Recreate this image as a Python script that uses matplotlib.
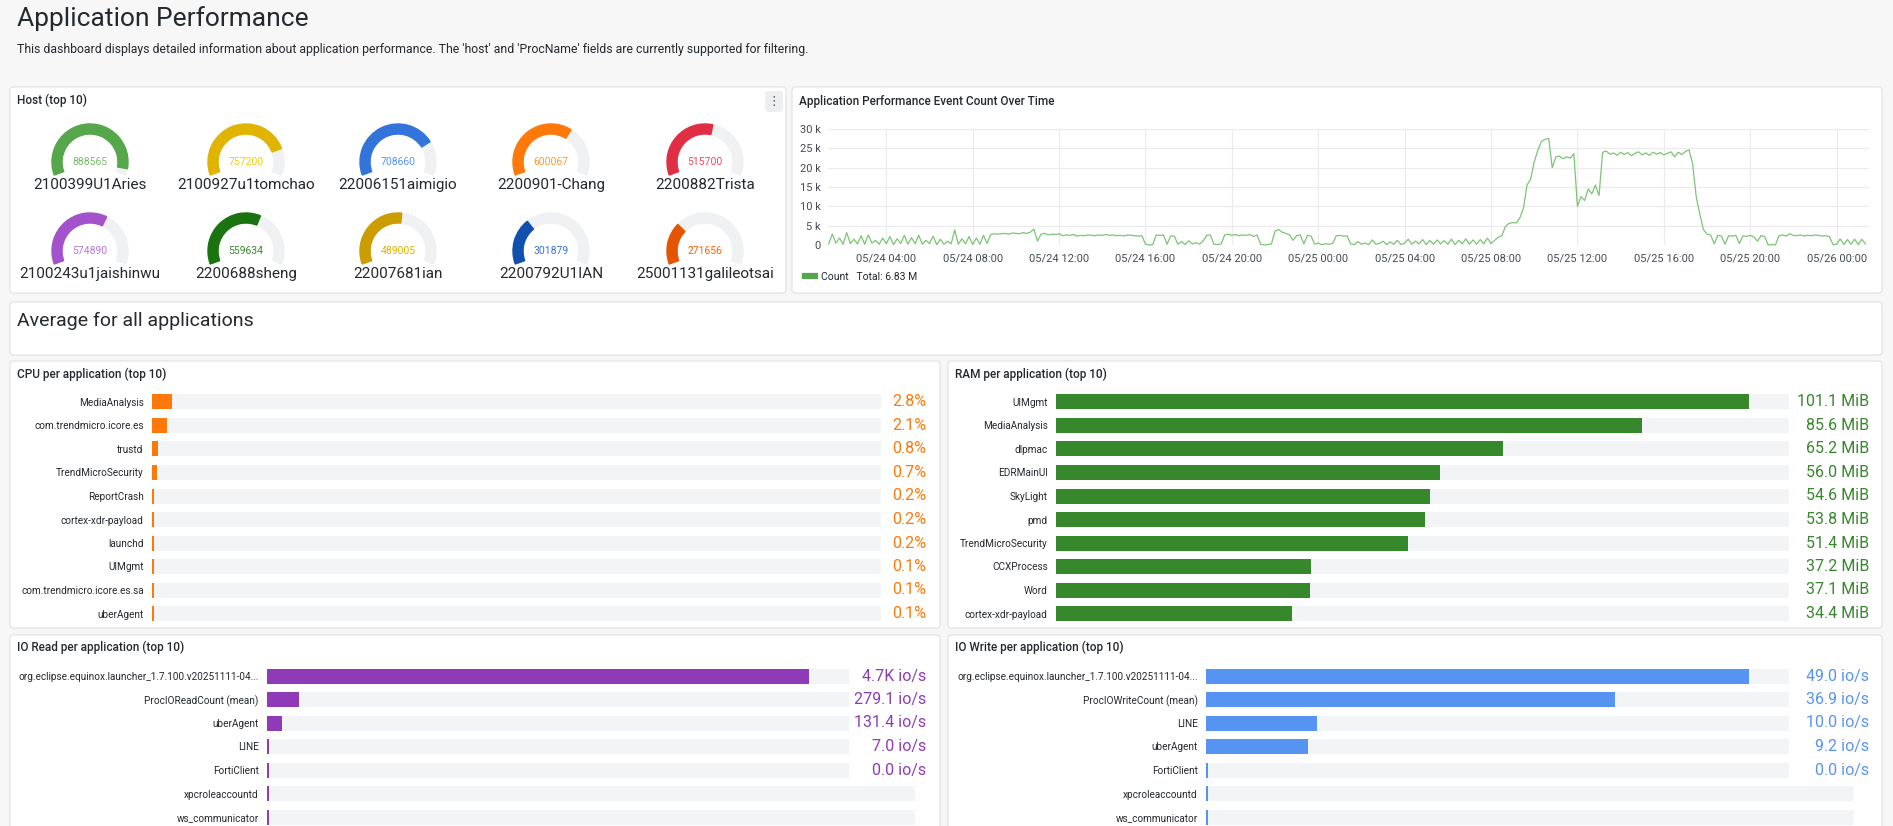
import numpy as np
import pandas as pd
import matplotlib
matplotlib.use("Agg")
import matplotlib.pyplot as plt
import matplotlib.dates as mdates
import matplotlib.transforms as mtransforms
from matplotlib.patches import FancyBboxPatch, Wedge

plt.rcParams['font.family'] = ['Roboto', 'DejaVu Sans']

# ---- data ----
host_names = ['2100399U1Aries', '2100927u1tomchao', '22006151aimigio', '2200901-Chang', '2200882Trista',
              '2100243u1jaishinwu', '2200688sheng', '22007681ian', '2200792U1IAN', '25001131galileotsai']
host_counts = [888565, 757200, 708660, 600067, 515700, 574890, 559634, 489005, 301879, 271656]
host_colors = ['#56A64B', '#E0B400', '#3274D9', '#FF780A', '#E02F44',
               '#A352CC', '#19730E', '#CC9D00', '#1250B0', '#E55400']
host_text_colors = ['#73BF69', '#F2CC0C', '#5794F2', '#FF9830', '#F2495C',
                    '#B877D9', '#37872D', '#E0B400', '#3274D9', '#FA6400']
gauge_max = 930000

# event count, thousands, every 10 minutes from 05/24 01:20
count_k = [
    0.3, 2.8, 0.5, 1.8, 0.2, 3.2, 0.4, 1.5, 0.3, 2.4, 0.2, 2.6,
    0.5, 1.2, 0.2, 1.8, 0.3, 2.2, 0.1, 1.6, 0.4, 2.5, 0.2, 1.9,
    0.3, 2.5, 0.2, 1.2, 0.4, 2.3, 0.1, 1.5, 0.2, 1.0, 0.3, 3.9,
    0.2, 1.6, 0.3, 2.2, 0.1, 1.8, 0.2, 2.5, 0.4, 2.7, 2.9, 2.8,
    2.9, 3.0, 2.8, 3.1, 3.0, 2.9, 3.2, 3.0, 3.3, 4.1, 1.0, 2.8,
    3.0, 2.6, 2.8, 2.7, 2.9, 2.4, 2.6, 2.5, 2.7, 2.3, 2.5, 2.4,
    2.6, 2.5, 2.4, 2.6, 2.5, 2.7, 2.5, 2.6, 2.4, 2.5, 2.3, 2.6,
    2.5, 2.4, 2.3, 2.4, 0.2, 0.0, 0.1, 2.6, 2.5, 2.6, 0.2, 2.3,
    2.3, 0.2, 0.9, 0.1, 1.1, 0.3, 0.6, 0.2, 1.0, 2.5, 2.6, 0.2,
    0.1, 0.3, 2.6, 2.8, 2.5, 2.7, 2.4, 2.6, 2.5, 2.7, 2.2, 2.6,
    0.2, 0.0, 0.1, 0.3, 3.6, 4.0, 3.3, 3.0, 2.6, 1.2, 2.4, 2.6,
    0.3, 2.5, 2.3, 0.2, 0.5, 0.1, 0.3, 0.2, 0.4, 2.4, 2.5, 2.3,
    2.4, 0.3, 0.1, 0.9, 0.2, 0.5, 0.1, 1.3, 0.2, 0.4, 1.0, 0.1,
    0.8, 0.2, 1.2, 0.1, 0.5, 1.5, 0.2, 1.0, 0.3, 1.4, 0.1, 1.2,
    0.2, 1.3, 0.3, 1.1, 0.2, 1.5, 0.1, 1.2, 0.3, 1.6, 0.2, 1.3,
    0.2, 1.4, 0.3, 1.8, 0.4, 1.2, 2.0, 2.4, 4.8, 5.6, 5.8, 5.7,
    7.0, 9.5, 15.5, 17.0, 21.5, 24.5, 26.8, 27.3, 27.6, 20.0, 22.8, 23.0,
    22.3, 22.8, 22.5, 23.6, 10.0, 12.5, 11.5, 14.5, 13.2, 15.5, 12.8, 24.0,
    24.3, 23.5, 23.8, 23.2, 24.0, 23.4, 23.9, 23.1, 23.7, 24.1, 23.3, 23.8,
    23.2, 24.0, 23.5, 23.9, 23.3, 23.7, 24.1, 22.8, 24.0, 23.4, 24.2, 24.6,
    21.0, 12.5, 8.0, 4.0, 2.8, 2.6, 0.3, 2.5, 2.3, 0.2, 2.4, 2.3,
    2.5, 0.4, 2.4, 2.2, 2.5, 2.1, 1.0, 2.4, 2.2, 0.0, 0.1, 0.0,
    2.4, 2.6, 2.3, 2.9, 2.5, 2.4, 2.6, 2.3, 2.5, 2.4, 2.6, 2.5,
    2.3, 2.4, 2.2, 0.1, 0.2, 1.6, 0.1, 1.4, 0.2, 1.5, 0.1, 1.5,
    0.3,
]

cpu_apps = ['MediaAnalysis', 'com.trendmicro.icore.es', 'trustd', 'TrendMicroSecurity', 'ReportCrash',
            'cortex-xdr-payload', 'launchd', 'UIMgmt', 'com.trendmicro.icore.es.sa', 'uberAgent']
cpu_pct = [2.8, 2.1, 0.8, 0.7, 0.2, 0.2, 0.2, 0.1, 0.1, 0.1]

ram_apps = ['UIMgmt', 'MediaAnalysis', 'dlpmac', 'EDRMainUI', 'SkyLight', 'pmd', 'TrendMicroSecurity',
            'CCXProcess', 'Word', 'cortex-xdr-payload']
ram_mib = [101.1, 85.6, 65.2, 56.0, 54.6, 53.8, 51.4, 37.2, 37.1, 34.4]

ioread_apps = ['org.eclipse.equinox.launcher_1.7.100.v20251111-04...', 'ProcIOReadCount (mean)', 'uberAgent',
               'LINE', 'FortiClient', 'xpcroleaccountd', 'ws_communicator']
ioread_vals = [4700, 279.1, 131.4, 7.0, 0.0, np.nan, np.nan]

iowrite_apps = ['org.eclipse.equinox.launcher_1.7.100.v20251111-04...', 'ProcIOWriteCount (mean)', 'LINE',
                'uberAgent', 'FortiClient', 'xpcroleaccountd', 'ws_communicator']
iowrite_vals = [49.0, 36.9, 10.0, 9.2, 0.0, np.nan, np.nan]

# ---- figure ----
W, H = 1893, 826
fig = plt.figure(figsize=(W / 100, H / 100), dpi=100, facecolor='#f7f7f8')

TXT = '#24292e'


def px_axes(x0, y0, x1, y1):
    return fig.add_axes([x0 / W, 1 - y1 / H, (x1 - x0) / W, (y1 - y0) / H])


bg = fig.add_axes([0, 0, 1, 1])
bg.set_xlim(0, W)
bg.set_ylim(H, 0)
bg.axis('off')

panels = [(10, 87, 786, 293), (792, 87, 1882, 293), (10, 302, 1882, 355),
          (10, 361, 940, 628), (948, 361, 1882, 628), (10, 635, 940, 840), (948, 635, 1882, 840)]
for x0, y0, x1, y1 in panels:
    bg.add_patch(FancyBboxPatch((x0, y0), x1 - x0, y1 - y0, boxstyle='round,pad=0,rounding_size=3',
                                fc='white', ec='#dfe1e4', lw=0.8))

bg.text(17, 19, 'Application Performance', fontsize=19, color=TXT, va='center')
bg.text(17, 50, "This dashboard displays detailed information about application performance. "
        "The 'host' and 'ProcName' fields are currently supported for filtering.",
        fontsize=8.8, color=TXT, va='center')

titles = [(17, 100, 'Host (top 10)'), (799, 101, 'Application Performance Event Count Over Time'),
          (17, 374, 'CPU per application (top 10)'), (955, 374, 'RAM per application (top 10)'),
          (17, 647, 'IO Read per application (top 10)'), (955, 647, 'IO Write per application (top 10)')]
for x, y, t in titles:
    bg.text(x, y, t, fontsize=8.5, fontweight=500, color=TXT, va='center')
bg.text(17, 321, 'Average for all applications', fontsize=14, color=TXT, va='center')

# menu button
bg.add_patch(FancyBboxPatch((765, 91), 18, 21, boxstyle='round,pad=0,rounding_size=3', fc='#eeeff0', ec='none'))
bg.text(774, 101.5, '\u22ee', fontsize=9, color='#555', ha='center', va='center',
        family=['DejaVu Sans'])

# ---- gauges ----
gx = [90, 246, 398, 551, 705]
gy = [162, 251]
R, TH = 38, 10
for i, (name, v) in enumerate(zip(host_names, host_counts)):
    cx, cy = gx[i % 5], gy[i // 5]
    ax = px_axes(cx - 45, cy - 45, cx + 45, cy + 45)
    ax.set_xlim(-45, 45)
    ax.set_ylim(-45, 45)
    ax.axis('off')
    ax.add_patch(Wedge((0, 0), R, -20, 200, width=TH, color='#f0f1f2'))
    frac = v / gauge_max
    ax.add_patch(Wedge((0, 0), R, 200 - 220 * frac, 200, width=TH, color=host_colors[i]))
    ax.text(0, 0, str(v), ha='center', va='center', fontsize=7.5, color=host_text_colors[i])
    ax.text(0, -23, name, ha='center', va='center', fontsize=11, color=TXT)

# ---- time series ----
times = pd.date_range('2025-05-24 01:20', periods=len(count_k), freq='10min')
counts = np.array(count_k) * 1000
ax = px_axes(828, 129, 1869, 245)
line, = ax.plot(times, counts, color='#7cc573', lw=0.9, clip_on=False)
ax.set_xlim(pd.Timestamp('2025-05-24 01:18'), pd.Timestamp('2025-05-26 01:30'))
ax.set_ylim(0, 30000)
ax.set_yticks(np.arange(0, 30001, 5000))
ax.yaxis.set_major_formatter(plt.FuncFormatter(lambda v, p: '0' if v == 0 else f'{int(v / 1000)} k'))
ax.xaxis.set_major_locator(mdates.HourLocator(byhour=range(0, 24, 4)))
ax.xaxis.set_major_formatter(mdates.DateFormatter('%m/%d %H:%M'))
ax.grid(color='#ebebec', lw=0.8)
ax.set_axisbelow(True)
for s in ax.spines.values():
    s.set_visible(False)
ax.tick_params(length=0, labelsize=8, labelcolor='#464c54')
ax.tick_params(axis='x', pad=6)
ax.tick_params(axis='y', pad=5)
ax.patch.set_alpha(0)
leg = ax.legend([line], ['Count   Total: 6.83 M'], loc='center left', bbox_to_anchor=(800 / W, 1 - 277 / H),
                bbox_transform=fig.transFigure, frameon=False, handlelength=0.9, fontsize=7.5,
                borderpad=0, handletextpad=0.6)
leg.get_lines()[0].set_linewidth(4.5)
leg.get_lines()[0].set_color('#56A64B')
for t in leg.get_texts():
    t.set_color(TXT)

# ---- bar gauges ----
ROW = 23.5
BAR_H = 15 / ROW


def bar_panel(x0, x1, ytop, names, values, vmax, color, fmt, value_x, empty_ext=1.0):
    n = len(names)
    ax = px_axes(x0, ytop, x1, ytop + n * ROW)
    ypos = np.arange(n)
    vals = np.array(values, dtype=float)
    ax.set_xlim(0, vmax)
    ax.set_ylim(n - 0.5, -0.5)
    tracks = np.where(np.isnan(vals), vmax * empty_ext, vmax)
    ax.barh(ypos, tracks, height=BAR_H, color='#f3f4f5', clip_on=False)
    min_w = vmax * 1.5 / (x1 - x0)
    ax.barh(ypos, np.maximum(np.nan_to_num(vals), min_w), height=BAR_H, color=color)
    tr = mtransforms.blended_transform_factory(fig.transFigure, ax.transData)
    for i, v in enumerate(vals):
        if not np.isnan(v):
            ax.text(value_x / W, i, fmt(v), transform=tr, ha='right', va='center', fontsize=11.5, color=color)
    ax.set_yticks(ypos, names)
    ax.set_xticks([])
    ax.tick_params(length=0, pad=6, labelsize=7.2, labelcolor=TXT)
    for s in ax.spines.values():
        s.set_visible(False)
    ax.patch.set_alpha(0)
    return ax


def io_fmt(v):
    if v >= 1000:
        return f'{v / 1000:.1f}K io/s'
    return f'{v:.1f} io/s'


bar_panel(152, 881, 402 - ROW / 2, cpu_apps, cpu_pct, 100, '#FF780A', lambda v: f'{v:.1f}%', 926)
bar_panel(1056, 1789, 402 - ROW / 2, ram_apps, ram_mib, 107, '#37872D', lambda v: f'{v:.1f} MiB', 1869)
bar_panel(267, 849, 676 - ROW / 2, ioread_apps, ioread_vals, 5050, '#8F3BB8', io_fmt, 926, 1.113)
bar_panel(1206, 1789, 676 - ROW / 2, iowrite_apps, iowrite_vals, 52.6, '#5794F2', io_fmt, 1869, 1.111)

fig.savefig('out.png', dpi=100, facecolor=fig.get_facecolor())
